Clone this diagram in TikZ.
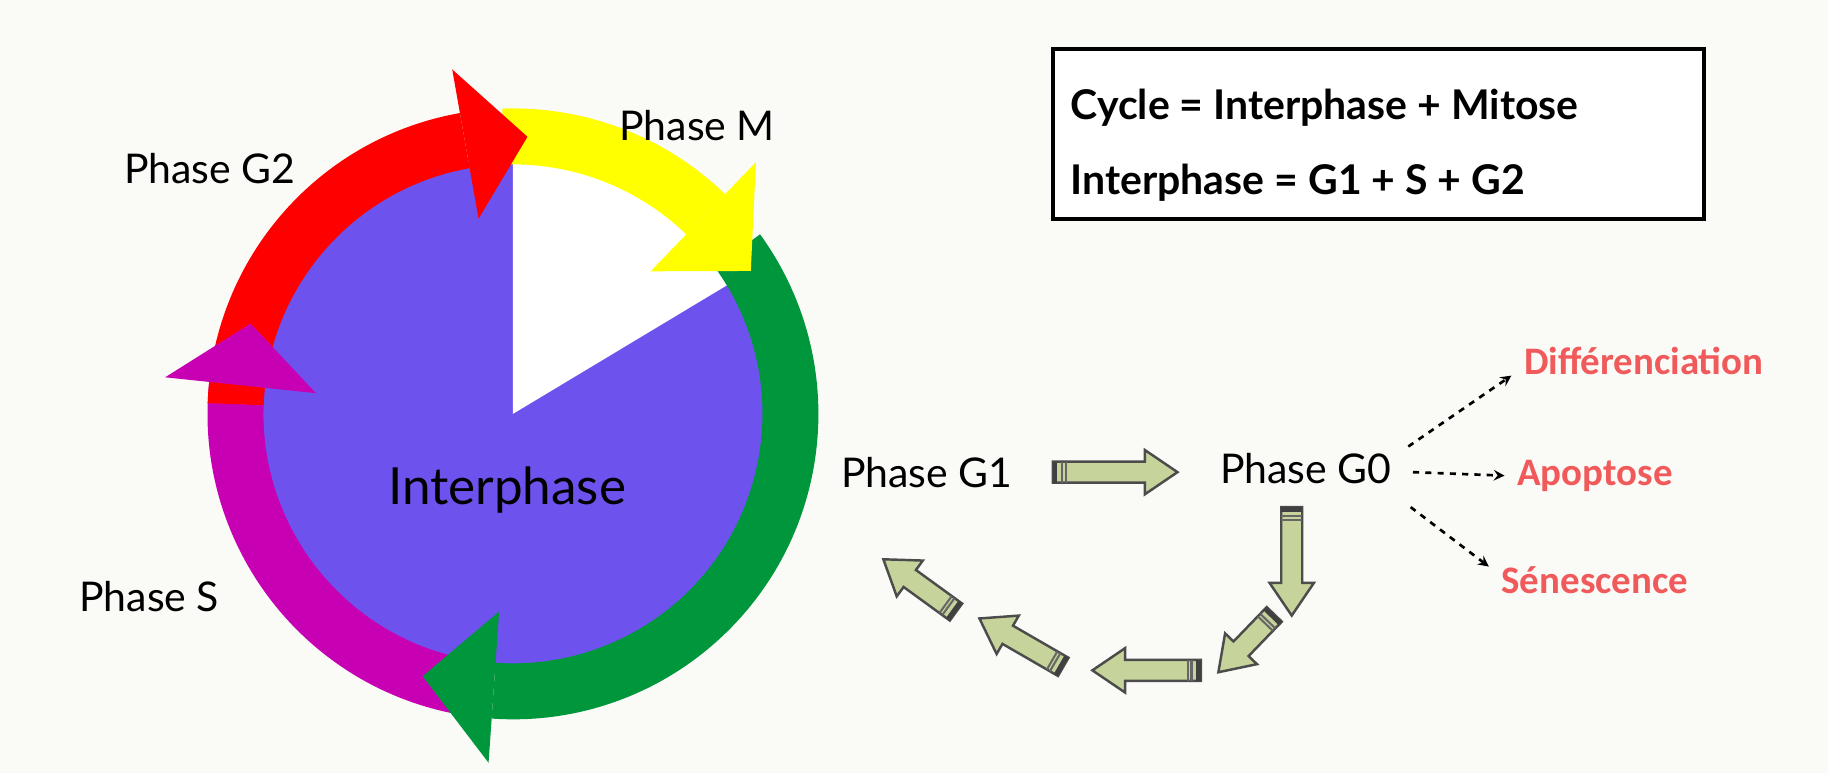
\documentclass[tikz,border=0pt]{standalone}
\usepackage{fontspec}
\setmainfont{Lato}
\newfontfamily\carlitofont{Carlito}
\begin{document}
\definecolor{bg}{RGB}{250,250,247}
\definecolor{cred}{RGB}{255,0,0}
\definecolor{cyel}{RGB}{255,255,0}
\definecolor{cgrn}{RGB}{0,150,60}
\definecolor{cmag}{RGB}{200,0,180}
\definecolor{cpur}{RGB}{110,82,238}
\definecolor{lab}{RGB}{240,90,90}
\definecolor{garr}{RGB}{198,212,155}
\newcommand\segbody[3]{\fill[#1] (#2:214) arc[start angle=#2,end angle=#3,radius=214] -- (#3:262) arc[start angle=#3,end angle=#2,radius=262] -- cycle;}
\newcommand\seghead[3]{\fill[#1] (#2:170) -- (#2:300) -- (#3:238) -- cycle;}
\newcommand\garrow[4]{\begin{scope}[shift={(#1,#2)},rotate=#3]
\filldraw[fill=garr,draw=black!70,line width=1.2pt] (0,-9)--(#4-28,-9)--(#4-28,-19)--(#4,0)--(#4-28,19)--(#4-28,9)--(0,9)--cycle;
\fill[black!75] (0,-9) rectangle (4,9);
\draw[black!60,line width=1pt] (8,-9)--(8,9) (11,-9)--(11,9);
\end{scope}}
\begin{tikzpicture}[x=0.02cm,y=0.02cm,
  lbl/.style={font=\fontsize{20}{24}\selectfont, inner sep=0pt},
  red/.style={font=\carlitofont\bfseries\fontsize{19}{22}\selectfont, text=lab, inner sep=0pt},
  dar/.style={-stealth, dashed, line width=1.3pt}]
\fill[bg] (0,0) rectangle (1568,663);
\useasboundingbox (0,0) rectangle (1568,663);
\begin{scope}[shift={(440,308)}]
\fill[cpur] (0,0) circle[radius=220];
\fill[white] (0,0) -- (90:225) arc[start angle=90,end angle=31,radius=225] -- cycle;
\segbody{cmag}{-100}{-186}
\segbody{cgrn}{36}{-94}
\segbody{cyel}{92}{46}
\segbody{cred}{178}{100}
\seghead{cred}{100}{87}
\seghead{cyel}{46}{31}
\seghead{cgrn}{-94}{-109}
\seghead{cmag}{-186}{-199}
\end{scope}
\node[lbl] (g2) at (180,518) {Phase G2};
\node[lbl] (m) at (598,555) {Phase M};
\node[lbl] (s) at (128,151) {Phase S};
\node[lbl,font=\fontsize{25}{30}\selectfont] (inter) at (435,243) {Interphase};
\draw[line width=2pt,fill=white] (903,475) rectangle (1462,621);
\node[anchor=west,inner sep=0pt,font=\bfseries\fontsize{20}{24}\selectfont] (c1) at (918,571) {Cycle = Interphase + Mitose};
\node[anchor=west,inner sep=0pt,font=\bfseries\fontsize{20}{24}\selectfont] (c2) at (918,506) {Interphase = G1 + S + G2};
\node[lbl] (g1) at (795,258) {Phase G1};
\node[lbl] (g0) at (1120,261) {Phase G0};
\node[red] (dif) at (1410,353) {Différenciation};
\node[red] (apo) at (1368,255) {Apoptose};
\node[red] (sen) at (1368,165) {Sénescence};
\draw[dar] (1208,280) -- ([xshift=-6pt]dif.south west);
\draw[dar] (1212,258) -- ([xshift=-6pt]apo.west);
\draw[dar] (1210,228) -- ([xshift=-6pt]sen.north west);
\garrow{903}{258}{0}{107}
\garrow{1108}{228}{-90}{93}
\garrow{1093}{136}{226}{69}
\garrow{1030}{88}{180}{93}
\garrow{912}{91}{150}{83}
\garrow{820}{138}{144}{77}
\end{tikzpicture}
\end{document}
